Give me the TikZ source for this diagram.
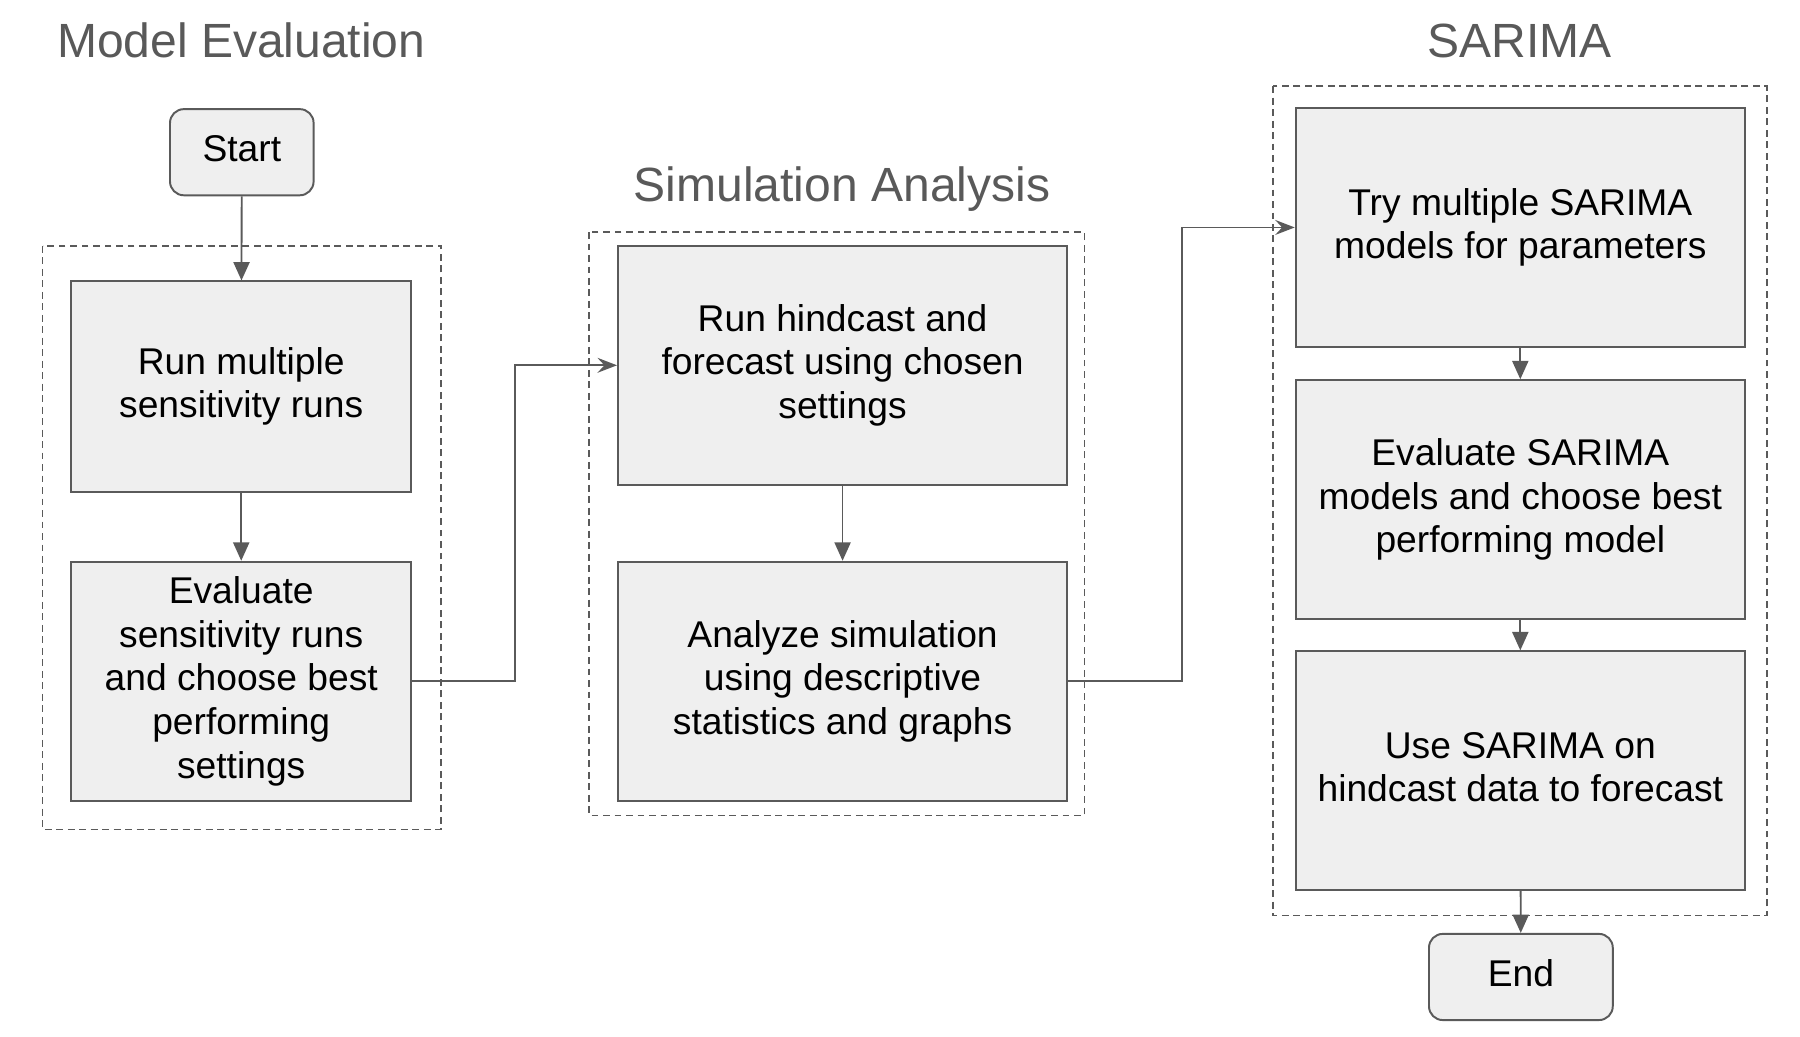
\documentclass[tikz,border=0pt]{standalone}
\usepackage{fontspec}
\setmainfont{Liberation Sans}
\usetikzlibrary{arrows.meta}
\definecolor{boxfill}{HTML}{EFEFEF}
\definecolor{linegray}{HTML}{5A5A5A}
\definecolor{titlegray}{HTML}{595959}
\newcommand{\boxstrut}{\rule[-3.4pt]{0pt}{15.3pt}}
\newcommand{\titlestrut}{\rule[-4.4pt]{0pt}{20.8pt}}
\tikzset{
  stepbox/.style={draw=linegray, line width=0.85pt, fill=boxfill, align=center, inner sep=0pt,
    font=\fontsize{16.2}{19}\selectfont, text=black,
    execute at begin node=\boxstrut, execute at end node=\boxstrut},
  termbox/.style={stepbox, rounded corners=6pt},
  frame/.style={draw=linegray, line width=0.75pt, dash pattern=on 3pt off 2pt},
  flow/.style={draw=linegray, line width=0.8pt, -{Triangle[width=7pt,length=8pt]}},
  conn/.style={draw=linegray, line width=0.8pt, -{Stealth[width=6.5pt,length=8.5pt,inset=3pt]}},
  titletext/.style={text=titlegray, font=\fontsize{20.9}{24}\selectfont, inner sep=0pt,
    execute at begin node=\titlestrut},
}
\begin{document}
\begin{tikzpicture}[x=0.5pt, y=-0.5pt]
\useasboundingbox (0,0) rectangle (1567,902);
% frames
\draw[frame] (37,214) rectangle (384,722);
\draw[frame] (513,202) rectangle (944,710);
\draw[frame] (1108,75) rectangle (1538,797);
% titles
\node[titletext] (t1) at (210,38) {Model Evaluation};
\node[titletext] (t2) at (733,163) {Simulation Analysis};
\node[titletext] (t3) at (1323,38) {SARIMA};
% nodes
\node[termbox, minimum width=62.5pt, minimum height=37.5pt] (start) at (210.5,132.5) {Start};
\node[stepbox, minimum width=148pt, minimum height=91.5pt] (A) at (210,336.5) {Run multiple\\sensitivity runs};
\node[stepbox, minimum width=148pt, minimum height=104pt] (B) at (210,593) {Evaluate\\sensitivity runs\\and choose best\\performing\\settings};
\node[stepbox, minimum width=195.5pt, minimum height=104pt] (C) at (733.5,318) {Run hindcast and\\forecast using chosen\\settings};
\node[stepbox, minimum width=195.5pt, minimum height=104pt] (D) at (733.5,593) {Analyze simulation\\using descriptive\\statistics and graphs};
\node[stepbox, minimum width=195.5pt, minimum height=104pt] (E) at (1323.5,198) {Try multiple SARIMA\\models for parameters};
\node[stepbox, minimum width=195.5pt, minimum height=104pt] (F) at (1323.5,435) {Evaluate SARIMA\\models and choose best\\performing model};
\node[stepbox, minimum width=195.5pt, minimum height=104pt] (G) at (1323.5,671) {Use SARIMA on\\hindcast data to forecast};
\node[termbox, minimum width=80pt, minimum height=37.5pt] (end) at (1324,850.5) {End};
% connectors
\draw[flow] (start) -- (A);
\draw[flow] (A) -- (B);
\draw[flow] (C) -- (D);
\draw[flow] (E) -- (F);
\draw[flow] (F) -- (G);
\draw[flow] (G) -- (end);
\coordinate (k1) at (448,593);
\coordinate (k2) at (1029,593);
\draw[conn] (B.east) -- (k1) |- (C.west);
\draw[conn] (D.east) -- (k2) |- (E.west);
\end{tikzpicture}
\end{document}
